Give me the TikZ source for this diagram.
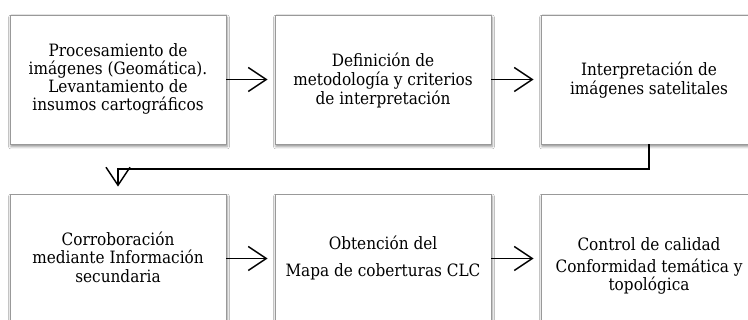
\documentclass[tikz,border=0pt]{standalone}
\usepackage{fontspec}
\setmainfont{DejaVu Serif Condensed}
\usetikzlibrary{arrows.meta,shadows.blur}
\begin{document}
\begin{tikzpicture}[x=1pt,y=1pt,
  box/.style={draw=black!40, line width=0.8pt, fill=white, minimum width=216pt, minimum height=129pt, inner sep=0pt,
    blur shadow={shadow xshift=1pt, shadow yshift=-2.5pt, shadow blur radius=2.5pt, shadow opacity=45}},
  txt/.style={anchor=base, inner sep=0pt, font=\fontsize{17}{20}\selectfont},
  conn/.style={line width=1.5pt, shorten >=7pt, -{Straight Barb[length=18pt,width=24pt,line width=1.5pt]}}]
\clip (0,0) rectangle (748,-320);
\fill[white] (0,0) rectangle (748,-320);
% boxes
\node[box] (B1) at (118,-79.5) {};
\node[box] (B2) at (383,-79.5) {};
\node[box] (B3) at (649,-79.5) {};
\node[box] (B4) at (118,-258.5) {};
\node[box] (B5) at (383,-258.5) {};
\node[box] (B6) at (649,-258.5) {};
% texts
\node[txt] (t1a) at (118,-57) {Procesamiento de};
\node[txt] (t1b) at (118,-75) {imágenes (Geomática).};
\node[txt] (t1c) at (118,-93) {Levantamiento de};
\node[txt] (t1d) at (118,-111) {insumos cartográficos};
\node[txt] (t2a) at (383,-67) {Definición de};
\node[txt] (t2b) at (383,-86) {metodología y criterios};
\node[txt] (t2c) at (383,-105) {de interpretación};
\node[txt] (t3a) at (649,-76) {Interpretación de};
\node[txt] (t3b) at (649,-95) {imágenes satelitales};
\node[txt] (t4a) at (118,-246) {Corroboración};
\node[txt] (t4b) at (118,-264) {mediante Información};
\node[txt] (t4c) at (118,-283) {secundaria};
\node[txt] (t5a) at (383,-250) {Obtención del};
\node[txt] (t5b) at (383,-277) {Mapa de coberturas CLC};
\node[txt] (t6a) at (649,-251) {Control de calidad};
\node[txt] (t6b) at (649,-273) {Conformidad temática y};
\node[txt] (t6c) at (649,-291) {topológica};
% connectors
\draw[conn] (B1.east) -- (B2.west);
\draw[conn] (B2.east) -- (B3.west);
\draw[conn] (B4.east) -- (B5.west);
\draw[conn] (B5.east) -- (B6.west);
\coordinate (k) at (649,-169);
\draw[conn] (B3.south) -- (k) -| (B4.north);
\end{tikzpicture}
\end{document}
